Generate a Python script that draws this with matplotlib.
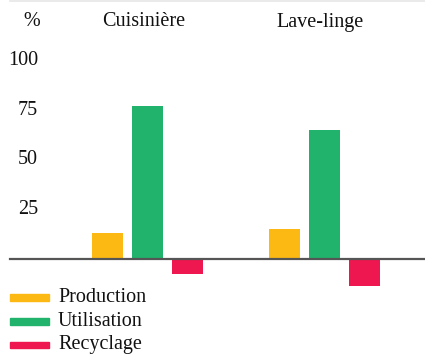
import matplotlib
matplotlib.use("Agg")
from matplotlib import pyplot as plt
from matplotlib.patches import Rectangle
from matplotlib.lines import Line2D
from matplotlib.transforms import offset_copy

# Categories and series (%)
categories = ["Cuisinière", "Lave-linge"]
series_names = ["Production", "Utilisation", "Recyclage"]
production = [13, 15]
utilisation = [77, 65]
recyclage = [-8, -14]
y_ticks = [25, 50, 75, 100]

COLORS = ["#FDB913", "#21B36B", "#EE174F"]
FONT = "Liberation Serif"
FS = 14.5

W, H = 425, 356
fig = plt.figure(figsize=(W / 100, H / 100), dpi=100)
ax = fig.add_axes([0, 0, 1, 1])
ax.set_axis_off()

# Axis limits chosen so the zero line and groups sit where they should
ax.set_xlim(-0.833, 1.568)
ax.set_ylim(-49.2, 130.6)

pitch = 0.226
width = 0.175
values = [production, utilisation, recyclage]
for i, (vals, color) in enumerate(zip(values, COLORS)):
    xs = [g + (i - 1) * pitch for g in range(len(categories))]
    ax.bar(xs, vals, width=width, color=color, zorder=2)

# Zero baseline
ax.axhline(0, xmin=10 / W, xmax=1, color="#555555", lw=1.6, zorder=3)

# Thin rule at the top
fig.add_artist(Line2D([10 / W, 1], [1 - 0.5 / H, 1 - 0.5 / H],
                      color="#e6e6e6", lw=1.2))

# Y tick labels
for t in y_ticks:
    ax.text(38 / W, t, str(t), transform=ax.get_yaxis_transform(),
            ha="right", va="center", fontsize=FS, family=FONT, color="#111111")
ax.text(32 / W, 1 - 22 / H, "%", transform=ax.transAxes, ha="center",
        va="center", fontsize=FS, family=FONT, color="#111111")

# Category headings, nudged a little left of the group centre
head_tr = offset_copy(ax.get_xaxis_transform(), fig=fig, x=-4, y=0, units="dots")
for g, name in enumerate(categories):
    ax.text(g, 1 - 22 / H, name, transform=head_tr,
            ha="center", va="center", fontsize=FS, family=FONT, color="#111111")

# Legend
for i, (name, color) in enumerate(zip(series_names, COLORS)):
    yc = 297.5 + i * 23.7
    fig.add_artist(Rectangle((10 / W, 1 - (yc + 3.3) / H), 39 / W, 6.6 / H,
                             color=color, transform=fig.transFigure))
    fig.text(58 / W, 1 - yc / H, name, ha="left", va="center",
             fontsize=FS, family=FONT, color="#111111")

fig.savefig("out.png", dpi=100)
